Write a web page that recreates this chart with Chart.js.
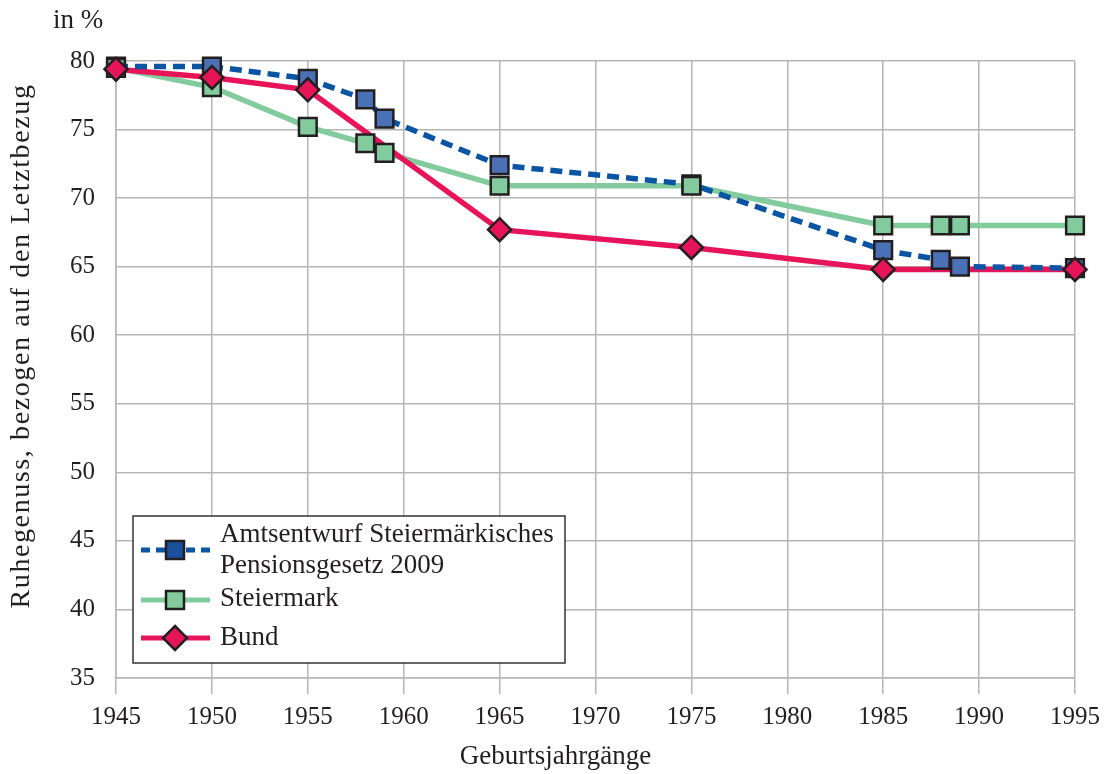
<!DOCTYPE html>
<html>
<head>
<meta charset="utf-8">
<script src="https://cdn.jsdelivr.net/npm/chart.js@4.4.0/dist/chart.umd.min.js"></script>
<style>
  html, body { margin: 0; padding: 0; background: #fff; }
  #wrap { width: 1111px; height: 774px; }
</style>
</head>
<body>
<div id="wrap"><canvas id="chartruhegenuss"></canvas></div>
<script>
// Daten
var jahreLang = [1945, 1950, 1955, 1958, 1959, 1965, 1975, 1985, 1988, 1989, 1995];
var jahreBund = [1945, 1950, 1955, 1965, 1975, 1985, 1995];
var amtsentwurf = [79.6, 79.6, 78.7, 77.2, 75.8, 72.4, 71.0, 66.2, 65.5, 65.0, 64.9];
var steiermark = [79.5, 78.1, 75.2, 74.0, 73.3, 70.9, 70.9, 68.0, 68.0, 68.0, 68.0];
var bund = [79.4, 78.8, 77.9, 67.7, 66.4, 64.8, 64.8];
var yTicks = [35, 40, 45, 50, 55, 60, 65, 70, 75, 80];
var xTicks = [1945, 1950, 1955, 1960, 1965, 1970, 1975, 1980, 1985, 1990, 1995];

var legendLabels = [['Amtsentwurf Steiermärkisches', 'Pensionsgesetz 2009'], ['Steiermark'], ['Bund']];

var textColor = '#231f20';
var gridColor = '#b5b5b5';
var font = 'Liberation Serif';

function punkte(jahre, werte) {
    return jahre.map(function (j, i) { return { x: j, y: werte[i] }; });
}

var serien = [
    { name: 'Amtsentwurf', data: punkte(jahreLang, amtsentwurf), line: '#0a55a3', fill: '#4a70b6', legendFill: '#1a4f9c', style: 'rect', radius: 12.5, dash: [12, 7], lineOrder: 3, pointOrder: 2 },
    { name: 'Steiermark', data: punkte(jahreLang, steiermark), line: '#82cb9c', fill: '#82cb9c', legendFill: '#82cb9c', style: 'rect', radius: 12.5, dash: [], lineOrder: 5, pointOrder: 1 },
    { name: 'Bund', data: punkte(jahreBund, bund), line: '#e8145a', fill: '#e8145a', legendFill: '#e8145a', style: 'rectRot', radius: 11.5, dash: [], lineOrder: 4, pointOrder: 0 }
];

var datasets = [];
serien.forEach(function (s) {
    datasets.push({
        label: s.name,
        data: s.data,
        showLine: true,
        borderColor: s.line,
        borderWidth: 5.5,
        borderDash: s.dash,
        pointRadius: 0,
        fill: false,
        tension: 0,
        clip: false,
        order: s.lineOrder
    });
    datasets.push({
        label: s.name + ' Punkte',
        data: s.data,
        showLine: false,
        pointStyle: s.style,
        pointRadius: s.radius,
        pointBackgroundColor: s.fill,
        pointBorderColor: '#231f20',
        pointBorderWidth: 2.5,
        clip: false,
        order: s.pointOrder
    });
});

// Legende und Achsentitel
var beschriftung = {
    id: 'beschriftung',
    afterDraw: function (chart) {
        var ctx = chart.ctx;
        var a = chart.chartArea;
        ctx.save();
        ctx.fillStyle = textColor;
        ctx.font = '27px "' + font + '"';
        ctx.textBaseline = 'middle';
        ctx.textAlign = 'left';
        ctx.fillText('in %', 53, 21);

        ctx.textAlign = 'center';
        ctx.fillText('Geburtsjahrgänge', chart.width / 2, 757);

        ctx.save();
        ctx.translate(22, 346);
        ctx.rotate(-Math.PI / 2);
        ctx.font = '28px "' + font + '"';
        ctx.letterSpacing = '1.6px';
        ctx.fillText('Ruhegenuss, bezogen auf den Letztbezug', 0, 0);
        ctx.restore();

        // Legendenkasten
        var bx = a.left + 17, by = 516, bw = 432, bh = 147;
        ctx.fillStyle = '#fff';
        ctx.fillRect(bx, by, bw, bh);
        ctx.strokeStyle = '#333';
        ctx.lineWidth = 1.5;
        ctx.strokeRect(bx, by, bw, bh);

        var zeilen = [[535, 566], [599], [638]];
        var symbolY = [550, 600, 638];
        ctx.font = '27px "' + font + '"';
        serien.forEach(function (s, i) {
            var y = symbolY[i];
            ctx.beginPath();
            ctx.strokeStyle = s.line;
            ctx.lineWidth = 5;
            ctx.setLineDash(s.dash.length ? [9, 6] : []);
            ctx.moveTo(bx + 8, y);
            ctx.lineTo(bx + 77, y);
            ctx.stroke();
            ctx.setLineDash([]);
            ctx.fillStyle = s.legendFill;
            ctx.strokeStyle = '#231f20';
            ctx.lineWidth = 2.5;
            ctx.beginPath();
            if (s.style === 'rect') {
                ctx.rect(bx + 42 - 9, y - 9, 18, 18);
            } else {
                ctx.moveTo(bx + 42, y - 12);
                ctx.lineTo(bx + 54, y);
                ctx.lineTo(bx + 42, y + 12);
                ctx.lineTo(bx + 30, y);
                ctx.closePath();
            }
            ctx.fill();
            ctx.stroke();
            ctx.fillStyle = textColor;
            ctx.textAlign = 'left';
            legendLabels[i].forEach(function (t, k) {
                ctx.fillText(t, bx + 87, zeilen[i][k]);
            });
        });
        ctx.restore();
    }
};

var ctx = document.getElementById('chartruhegenuss').getContext('2d');
var chart = new Chart(ctx, {
    type: 'scatter',
    data: { datasets: datasets },
    options: {
        responsive: true,
        maintainAspectRatio: false,
        animation: false,
        layout: { padding: { top: 61, right: 36, left: 0, bottom: 0 } },
        plugins: { legend: { display: false }, tooltip: { enabled: false } },
        scales: {
            x: {
                type: 'linear',
                min: xTicks[0],
                max: xTicks[xTicks.length - 1],
                afterFit: function (s) { s.height = 96; },
                afterBuildTicks: function (s) { s.ticks = xTicks.map(function (v) { return { value: v }; }); },
                grid: { color: gridColor, lineWidth: 1.5, tickLength: 16, drawTicks: true },
                border: { color: gridColor, width: 1.5 },
                ticks: {
                    color: textColor,
                    font: { family: font, size: 25 },
                    padding: 8,
                    maxRotation: 0,
                    callback: function (v) { return String(v); }
                }
            },
            y: {
                min: yTicks[0],
                max: yTicks[yTicks.length - 1],
                afterFit: function (s) { s.width = 116; },
                afterBuildTicks: function (s) { s.ticks = yTicks.map(function (v) { return { value: v }; }); },
                grid: { color: gridColor, lineWidth: 1.5, drawTicks: false },
                border: { color: gridColor, width: 1.5 },
                ticks: {
                    color: textColor,
                    font: { family: font, size: 25 },
                    padding: 21
                }
            }
        }
    },
    plugins: [beschriftung]
});
</script>
</body>
</html>
